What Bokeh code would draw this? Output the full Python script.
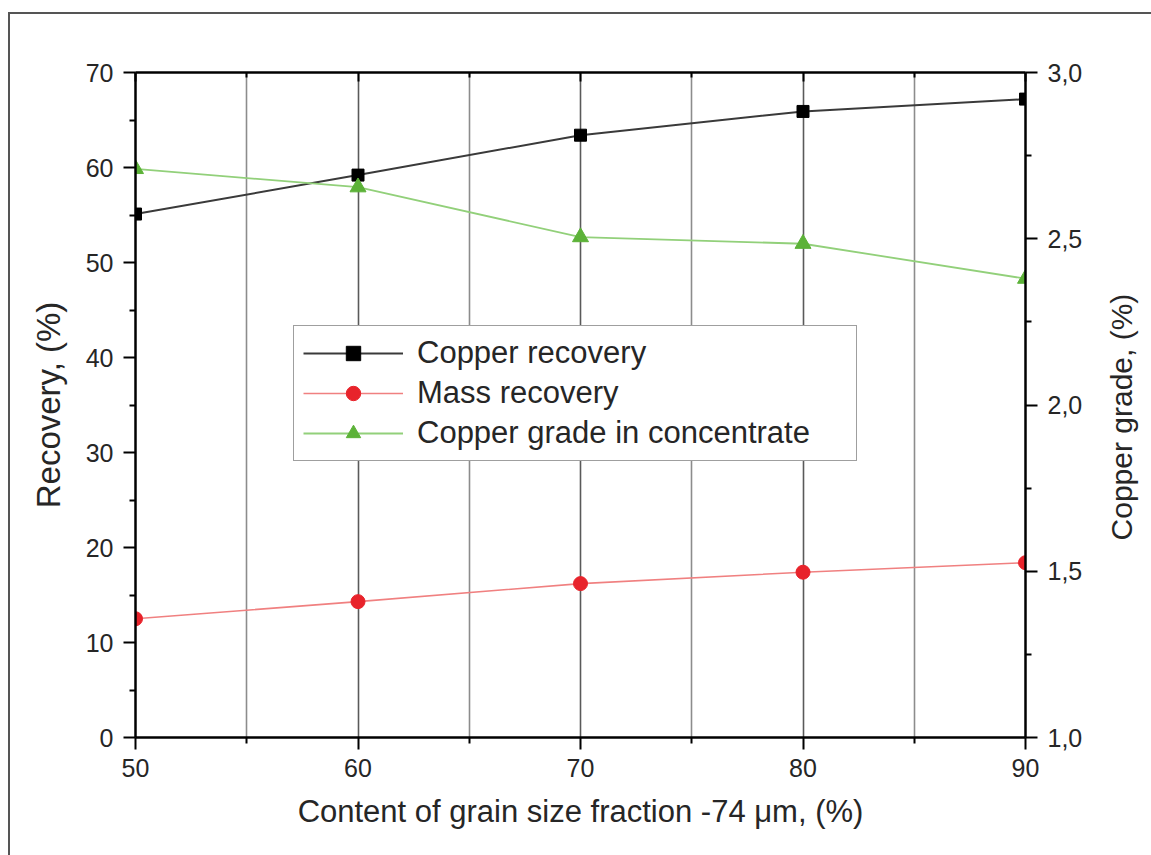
import math
from bokeh.plotting import figure
from bokeh.layouts import row
from bokeh.models import (LinearAxis, Range1d, FixedTicker, Legend, LegendItem,
                          CustomJSTickFormatter, Grid)
from bokeh.core.properties import value
from bokeh.embed import file_html
from bokeh.resources import INLINE

# ---- data ----
x_content = [50, 60, 70, 80, 90]
copper_recovery = [55.1, 59.2, 63.4, 65.9, 67.2]
mass_recovery = [12.5, 14.3, 16.2, 17.4, 18.4]
copper_grade = [2.71, 2.655, 2.505, 2.485, 2.38]

x_ticks = [50, 60, 70, 80, 90]
x_minor = [55, 65, 75, 85]
y_ticks = [0, 10, 20, 30, 40, 50, 60, 70]
y_minor = [5, 15, 25, 35, 45, 55, 65]
grade_ticks = [1.0, 1.5, 2.0, 2.5, 3.0]
grade_minor = [1.25, 1.75, 2.25, 2.75]
grade_tick_labels = ["1,0", "1,5", "2,0", "2,5", "3,0"]
right_label = "Copper grade, (%)"

FONT = "Liberation Sans"
TXT = "#262626"


def kill_grids(fig, keep=None):
    for g in fig.select(type=Grid):
        if g is keep:
            continue
        g.ticker = FixedTicker(ticks=[])
        g.grid_line_color = None
        g.minor_grid_line_color = None
        g.visible = False


p = figure(frame_width=890, frame_height=665,
           x_range=Range1d(50, 90), y_range=Range1d(0, 70),
           output_backend="svg", toolbar_location=None,
           min_border_left=125, min_border_right=75,
           min_border_top=58, min_border_bottom=118,
           outline_line_color=None, background_fill_color="white")
p.extra_y_ranges = {"grade": Range1d(1.0, 3.0)}

x_ticker = FixedTicker(ticks=x_ticks, minor_ticks=x_minor)
y_ticker = FixedTicker(ticks=y_ticks, minor_ticks=y_minor)
g_ticker = FixedTicker(ticks=grade_ticks, minor_ticks=grade_minor)

# vertical grid lines only
xg = p.xgrid[0]
xg.ticker = x_ticker
xg.grid_line_color = "#5a5a5a"
xg.grid_line_width = 1.6
xg.minor_grid_line_color = "#8c8c8c"
xg.minor_grid_line_width = 1.6
kill_grids(p, keep=xg)


def style_axis(ax, tick_out=True):
    ax.axis_line_color = "black"
    ax.axis_line_width = 2.5
    ax.major_tick_line_color = "black"
    ax.major_tick_line_width = 2
    ax.minor_tick_line_color = "black"
    ax.minor_tick_line_width = 2
    if tick_out:
        ax.major_tick_out = 12
        ax.major_tick_in = 0
        ax.minor_tick_out = 6
        ax.minor_tick_in = 0
    else:
        ax.major_tick_out = 0
        ax.major_tick_in = 9
        ax.minor_tick_out = 0
        ax.minor_tick_in = 5
    ax.major_label_text_font = FONT
    ax.major_label_text_font_size = "25px"
    ax.major_label_text_color = TXT
    ax.axis_label_text_font = FONT
    ax.axis_label_text_font_size = "31px"
    ax.axis_label_text_font_style = "normal"
    ax.axis_label_text_color = TXT


bottom = p.xaxis[0]
bottom.ticker = x_ticker
bottom.axis_label = "Content of grain size fraction -74 \u03bcm, (%)"
style_axis(bottom)
bottom.major_label_standoff = 9
bottom.axis_label_standoff = 14

left = p.yaxis[0]
left.ticker = y_ticker
left.axis_label = "Recovery, (%)"
style_axis(left)
left.axis_label_text_font_size = "33px"
left.major_label_standoff = 10
left.axis_label_standoff = 16

top = LinearAxis(ticker=x_ticker,
                 formatter=CustomJSTickFormatter(code="return ''"))
style_axis(top, tick_out=False)
p.add_layout(top, "above")

right = LinearAxis(ticker=g_ticker, y_range_name="grade",
                   formatter=CustomJSTickFormatter(
                       args=dict(vals=grade_ticks, labs=grade_tick_labels),
                       code="""
for (let i = 0; i < vals.length; i++) {
  if (Math.abs(vals[i] - tick) < 1e-6) { return labs[i]; }
}
return '';
"""))
style_axis(right)
right.major_label_standoff = 10
p.add_layout(right, "right")

# ---- series ----
l1 = p.line(x_content, copper_recovery, line_color="#3a3a3a", line_width=2)
s1 = p.scatter(x_content, copper_recovery, marker="square", size=12,
               fill_color="black", line_color="black")

l2 = p.line(x_content, mass_recovery, line_color="#f08080", line_width=1.6)
s2 = p.scatter(x_content, mass_recovery, marker="circle", size=14,
               fill_color="#e8232b", line_color="#e8232b")

l3 = p.line(x_content, copper_grade, line_color="#92d07a", line_width=1.8,
            y_range_name="grade")
s3 = p.scatter(x_content, copper_grade, marker="triangle", size=16,
               fill_color="#5cb238", line_color="#5cb238",
               y_range_name="grade")

legend = Legend(items=[
    LegendItem(label="Copper recovery", renderers=[l1, s1]),
    LegendItem(label="Mass recovery", renderers=[l2, s2]),
    LegendItem(label="Copper grade in concentrate", renderers=[l3, s3]),
], location=(158, 276))
legend.margin = 0
legend.padding = 9
legend.spacing = 4
legend.glyph_width = 100
legend.glyph_height = 36
legend.label_height = 36
legend.label_standoff = 14
legend.label_width = 430
legend.label_text_font = FONT
legend.label_text_font_size = "31px"
legend.label_text_color = TXT
legend.border_line_color = "#404040"
legend.border_line_width = 1.8
legend.background_fill_color = "white"
legend.background_fill_alpha = 1.0
p.add_layout(legend, "center")

# ---- right-axis title strip (reads bottom to top like the original) ----
p2 = figure(width=51, height=820, x_range=Range1d(0.08, 1.08),
            y_range=Range1d(0.035, 1.035),
            output_backend="svg", toolbar_location=None,
            x_axis_location=None, y_axis_location=None,
            min_border=0, outline_line_color=None,
            background_fill_color="white")
kill_grids(p2)
p2.text(x=[0.5], y=[0.5], text=[right_label], angle=math.pi / 2,
        text_align="center", text_baseline="middle",
        text_font=value(FONT), text_font_size=value("30px"),
        text_color=TXT)

layout = row(p, p2, spacing=0, margin=(12, 0, 0, 8),
             styles={"border-top": "2px solid #555555",
                     "border-left": "2px solid #555555"})

open("out.html", "w").write(file_html(layout, INLINE))
